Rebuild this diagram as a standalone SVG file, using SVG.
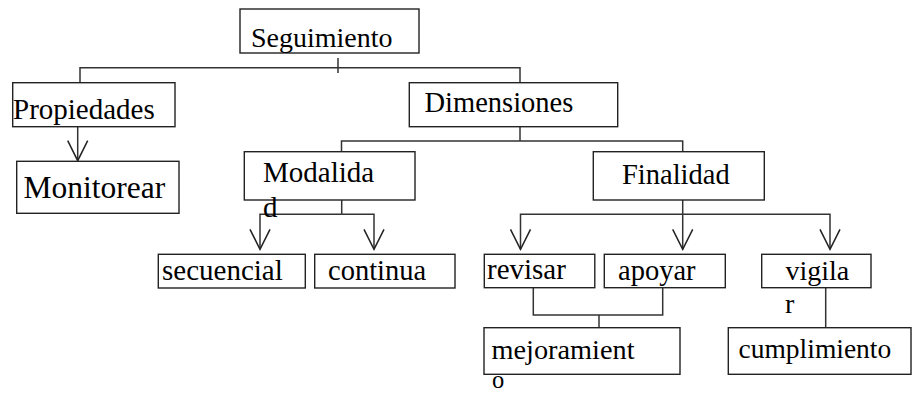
<svg xmlns="http://www.w3.org/2000/svg" width="912" height="393" viewBox="0 0 912 393">
<style>
.box{fill:#fff;stroke:#222;stroke-width:1.4}
.t{font-family:"Liberation Serif","Times New Roman",serif;font-size:28.5px;fill:#000}
.c{fill:none;stroke:#333;stroke-width:1.5}
</style>
<defs>
<marker id="v" markerUnits="userSpaceOnUse" markerWidth="24" markerHeight="24" viewBox="-22 -12 24 24" refX="0" refY="0" orient="auto" overflow="visible">
<path d="M-20,-10 L0,0 L-20,10" fill="none" stroke="#222" stroke-width="1.5"/>
</marker>
</defs>
<g id="connectors">
<path class="c" d="M80,82.7 V67.7 H520 V82.7"/>
<path class="c" d="M338,58 V73"/>
<path class="c" d="M77.7,126.7 V160.7" marker-end="url(#v)"/>
<path class="c" d="M520,126.7 V141"/>
<path class="c" d="M341.5,152 V141 H682.7 V152"/>
<path class="c" d="M341.7,200 V214.3"/>
<path class="c" d="M341.7,214.3 H260 V249.3" marker-end="url(#v)"/>
<path class="c" d="M341.7,214.3 H374 V249.3" marker-end="url(#v)"/>
<path class="c" d="M682.7,200 V249.3" marker-end="url(#v)"/>
<path class="c" d="M682.7,214.3 H520.5 V249.3" marker-end="url(#v)"/>
<path class="c" d="M682.7,214.3 H830 V249.3" marker-end="url(#v)"/>
<path class="c" d="M533.3,287.7 V315 H662.7 V286"/>
<path class="c" d="M599,315 V328"/>
<path class="c" d="M825.7,286 V328"/>
</g>
<g id="seguimiento"><rect class="box" x="240" y="9" width="179" height="44"/><text class="t" x="251" y="47" style="font-size:28px">Seguimiento</text></g>
<g id="propiedades"><rect class="box" x="12.7" y="82.7" width="162.3" height="44"/><text class="t" x="13" y="119.3" style="font-size:29px">Propiedades</text></g>
<g id="monitorear"><rect class="box" x="16.7" y="161.3" width="162.3" height="52"/><text class="t" x="23.5" y="198.3" style="font-size:31.5px">Monitorear</text></g>
<g id="dimensiones"><rect class="box" x="409.3" y="82.7" width="208.4" height="44"/><text class="t" x="424.5" y="111.7">Dimensiones</text></g>
<g id="modalidad"><rect class="box" x="244.3" y="151.7" width="170.7" height="48.3"/><text class="t" x="263" y="182.3" style="font-size:29px">Modalida</text><text class="t" x="263" y="216.5" style="font-size:29px">d</text></g>
<g id="finalidad"><rect class="box" x="593.3" y="151.7" width="171" height="48.3"/><text class="t" x="622" y="184.3">Finalidad</text></g>
<g id="secuencial"><rect class="box" x="158.3" y="254.3" width="147" height="33.7"/><text class="t" x="162" y="280" style="font-size:29px">secuencial</text></g>
<g id="continua"><rect class="box" x="314.7" y="254.3" width="140.3" height="33.7"/><text class="t" x="328" y="280">continua</text></g>
<g id="revisar"><rect class="box" x="484.3" y="254.3" width="110.5" height="33.4"/><text class="t" x="487" y="279.3" style="font-size:29px">revisar</text></g>
<g id="apoyar"><rect class="box" x="604.3" y="254.3" width="121" height="33.4"/><text class="t" x="618" y="279.5">apoyar</text></g>
<g id="vigilar"><rect class="box" x="761.7" y="254.3" width="109.3" height="33.4"/><text class="t" x="785.5" y="280" style="font-size:28px">vigila</text><text class="t" x="785" y="312.5" style="font-size:28px">r</text></g>
<g id="mejoramiento"><rect class="box" x="484" y="327.7" width="196" height="46.6"/><text class="t" x="491.5" y="359" style="font-size:28.3px">mejoramient</text><text class="t" x="492" y="387.5" style="font-size:24.5px">o</text></g>
<g id="cumplimiento"><rect class="box" x="728.3" y="327.7" width="182.7" height="46.6"/><text class="t" x="738.5" y="358.3" style="font-size:27.5px">cumplimiento</text></g>
</svg>
